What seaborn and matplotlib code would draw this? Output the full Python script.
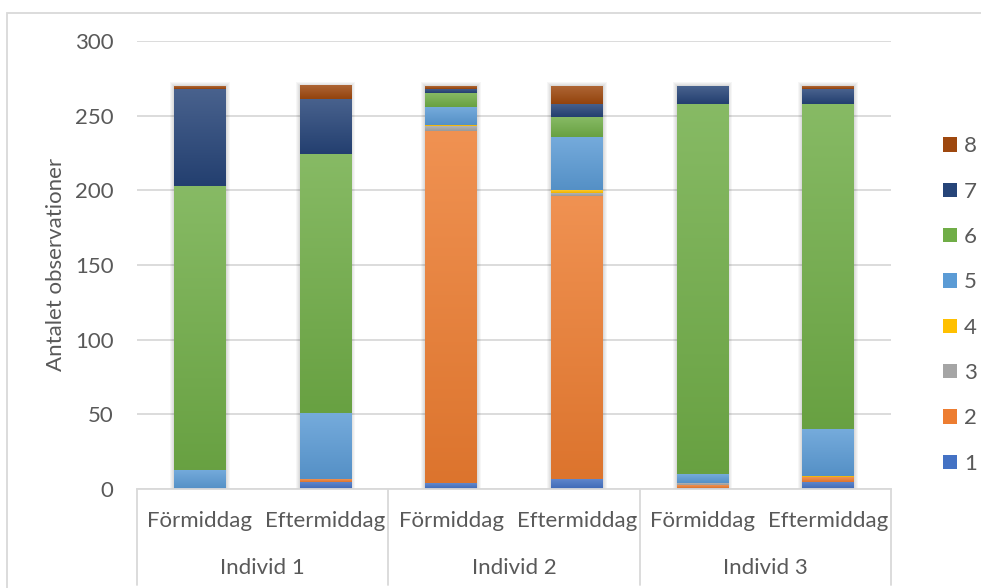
import matplotlib
matplotlib.use("Agg")
import matplotlib.pyplot as plt
import matplotlib.transforms as mtransforms
from matplotlib.patches import Patch, Rectangle
from matplotlib.lines import Line2D
from matplotlib.colors import to_rgb
import numpy as np
import pandas as pd
import seaborn as sns

# Kategorier och tillfällen
individer = ["Individ 1", "Individ 2", "Individ 3"]
tillfallen = ["Förmiddag", "Eftermiddag"]
kategorier = ["1", "2", "3", "4", "5", "6", "7", "8"]

# Antal observationer per kategori (1..8) för varje stapel
ind1_fm = [0, 0, 0, 0, 13, 190, 65, 2]
ind1_em = [5, 2, 0, 0, 44, 173, 37, 9]
ind2_fm = [4, 236, 3, 1, 12, 9, 3, 2]
ind2_em = [7, 189, 2, 2, 36, 13, 9, 12]
ind3_fm = [1, 2, 1, 0, 6, 248, 12, 0]
ind3_em = [5, 3, 0, 1, 31, 218, 10, 2]

farger = ["#4472C4", "#ED7D31", "#A5A5A5", "#FFC000",
          "#5B9BD5", "#70AD47", "#264478", "#9E480E"]

staplar = [ind1_fm, ind1_em, ind2_fm, ind2_em, ind3_fm, ind3_em]
stapel_namn = [f"{ind} {t}" for ind in individer for t in tillfallen]

rader = []
for namn, varden in zip(stapel_namn, staplar):
    for kat, v in zip(kategorier, varden):
        rader.append({"stapel": namn, "kategori": kat, "antal": v})
df = pd.DataFrame(rader)

sns.set_theme(style="white")
FONT = ["Lato", "DejaVu Sans"]
plt.rcParams["font.family"] = FONT
TEXT = "#595959"
GRID = "#D9D9D9"
FS = 16

W, H = 981, 588
fig = plt.figure(figsize=(W / 100, H / 100), dpi=100)
ax = fig.add_axes([137 / W, 1 - 489 / H, (891 - 137) / W, (489 - 41) / H])

sns.histplot(data=df, x="stapel", hue="kategori", weights="antal",
             multiple="stack", hue_order=kategorier[::-1],
             palette=dict(zip(kategorier, farger)), discrete=True,
             shrink=0.41, alpha=1, linewidth=0, legend=False, ax=ax)

XLIM = (-0.5, len(stapel_namn) - 0.5)
YLIM = (0, 300)
ax.set_xlim(*XLIM)
ax.set_ylim(*YLIM)

# Mjuk skugga runt varje stapel och vertikal toning i varje segment
px_x = (XLIM[1] - XLIM[0]) / (891 - 137)
px_y = (YLIM[1] - YLIM[0]) / (489 - 41)
segment = [p for p in ax.patches if p.get_height() > 0]
staplar_ut = {}
for p in segment:
    key = round(p.get_x(), 4)
    lo, hi = staplar_ut.get(key, (np.inf, -np.inf))
    staplar_ut[key] = (min(lo, p.get_y()), max(hi, p.get_y() + p.get_height()))
for x0, (lo, hi) in staplar_ut.items():
    w = segment[0].get_width()
    for k in (4, 3, 2, 1):
        ax.add_patch(Rectangle((x0 - k * px_x, lo), w + 2 * k * px_x,
                               hi - lo + k * px_y, facecolor="#000000",
                               alpha=0.035, linewidth=0, zorder=0.8))
for p in segment:
    x0, y0, w, h = p.get_x(), p.get_y(), p.get_width(), p.get_height()
    c = np.array(to_rgb(p.get_facecolor()))
    top = c + (1 - c) * 0.16
    bot = c * 0.93
    t = np.linspace(0, 1, 64)[:, None]
    img = (top * (1 - t) + bot * t)[:, None, :]
    ax.imshow(img, extent=(x0, x0 + w, y0, y0 + h), origin="upper",
              aspect="auto", interpolation="bilinear",
              zorder=p.get_zorder() + 0.1)
ax.set_xlim(*XLIM)
ax.set_ylim(*YLIM)

ax.set_yticks(range(0, 301, 50))
ax.yaxis.grid(True, color=GRID, linewidth=1.3, zorder=0.5)
ax.set_axisbelow(True)
for s in ["top", "right", "left"]:
    ax.spines[s].set_visible(False)
ax.spines["bottom"].set_color(GRID)
ax.spines["bottom"].set_linewidth(1.3)
ax.tick_params(axis="y", length=0, pad=17, labelsize=FS, labelcolor=TEXT)
ax.set_xticks([])
ax.set_xlabel("")
ax.set_ylabel("")
fig.text(56 / W, 1 - 264 / H, "Antalet observationer", rotation=90,
         ha="center", va="center", fontsize=FS, color=TEXT)

# Kategoriaxel i två nivåer
blend = mtransforms.blended_transform_factory(ax.transData, fig.transFigure)
for i, namn in enumerate(stapel_namn):
    t = tillfallen[i % len(tillfallen)]
    ax.text(i, 1 - 521 / H, t, transform=blend, ha="center", va="center",
            fontsize=FS, color=TEXT)
for j, ind in enumerate(individer):
    mitt = j * len(tillfallen) + (len(tillfallen) - 1) / 2
    ax.text(mitt, 1 - 568 / H, ind, transform=blend, ha="center", va="center",
            fontsize=FS, color=TEXT)
for j in range(len(individer) + 1):
    xpos = j * len(tillfallen) - 0.5
    ax.add_line(Line2D([xpos, xpos], [1 - 489 / H, 1 - 585 / H], transform=blend,
                       color=GRID, linewidth=1.3, clip_on=False))

# Förklaring
handtag = [Patch(facecolor=c, edgecolor="none") for c in farger][::-1]
fig.legend(handtag, kategorier[::-1], loc="center left",
           bbox_to_anchor=(932 / W, 1 - 305 / H), frameon=False, fontsize=FS,
           labelcolor=TEXT, handlelength=0.63, handleheight=0.63,
           handletextpad=0.32, labelspacing=1.14, borderpad=0)

# Ram runt diagrammet
fig.patches.append(Rectangle((7 / W, -0.2), 1.5, 1.2 - 13 / H, transform=fig.transFigure,
                             facecolor="none", edgecolor=GRID, linewidth=1.3))

fig.savefig("out.png", dpi=100, facecolor="white")
